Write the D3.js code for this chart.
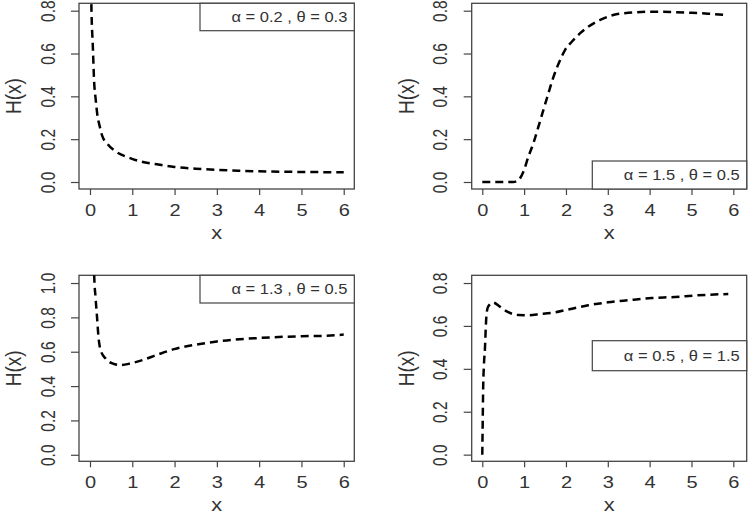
<!DOCTYPE html>
<html>
<head>
<meta charset="utf-8">
<script src="https://cdn.jsdelivr.net/npm/d3@7"></script>
<style>
  html, body { margin: 0; padding: 0; background: #fff; }
  svg { display: block; }
  text { font-family: "Liberation Sans", Arial, sans-serif; fill: #333; }
</style>
</head>
<body>
<svg id="chart" width="749" height="516"></svg>
<script>
// Values
const xTicks = [0, 1, 2, 3, 4, 5, 6];
const yTicks08 = [0, 0.2, 0.4, 0.6, 0.8];
const yTicks10 = [0, 0.2, 0.4, 0.6, 0.8, 1.0];

const p1Label = "α = 0.2 , θ = 0.3";
const p1X = [0.01, 0.03, 0.07, 0.095, 0.135, 0.17, 0.23, 0.29, 0.41, 0.61, 0.92, 1.28, 1.54, 2.0, 2.5, 3.0, 3.5, 4.0, 5.0, 6.0];
const p1H = [1.5, 0.85, 0.62, 0.48, 0.385, 0.32, 0.26, 0.215, 0.178, 0.142, 0.114, 0.092, 0.084, 0.07, 0.062, 0.057, 0.053, 0.05, 0.047, 0.045];

const p2Label = "α = 1.5 , θ = 0.5";
const p2X = [0, 0.4, 0.74, 0.86, 0.98, 1.10, 1.22, 1.34, 1.46, 1.58, 1.70, 1.84, 1.98, 2.14, 2.34, 2.54, 2.82, 3.13, 3.49, 4.05, 4.5, 5.0, 5.4, 5.84];
const p2H = [0.0, 0.0, 0.0, 0.008, 0.047, 0.117, 0.18, 0.257, 0.336, 0.414, 0.49, 0.56, 0.617, 0.655, 0.695, 0.726, 0.757, 0.78, 0.79, 0.795, 0.794, 0.79, 0.786, 0.78];

const p3Label = "α = 1.3 , θ = 0.5";
const p3X = [0.09, 0.1, 0.13, 0.16, 0.2, 0.25, 0.37, 0.53, 0.72, 0.96, 1.24, 1.63, 1.99, 2.6, 3.0, 4.0, 5.0, 5.6, 6.0];
const p3H = [1.2, 1.04, 0.92, 0.824, 0.687, 0.61, 0.56, 0.532, 0.522, 0.532, 0.551, 0.586, 0.615, 0.645, 0.66, 0.68, 0.69, 0.693, 0.70];

const p4Label = "α = 0.5 , θ = 1.5";
const p4X = [0.0, 0.01, 0.02, 0.04, 0.065, 0.085, 0.105, 0.14, 0.26, 0.42, 0.62, 0.86, 1.10, 1.38, 1.70, 2.02, 2.53, 3.0, 3.5, 4.05, 4.6, 5.08, 5.88];
const p4H = [0.0, 0.15, 0.3, 0.42, 0.5, 0.6, 0.66, 0.69, 0.709, 0.69, 0.664, 0.651, 0.65, 0.655, 0.662, 0.675, 0.696, 0.71, 0.72, 0.73, 0.735, 0.742, 0.749];

// Panel layout (plot box in pixels, domains, legend placement)
const panels = [
    { box: [79, 3.3, 354.3, 189], xDom: [-0.26, 6.25], yDom: [-0.0327, 0.8345], yTicks: yTicks08,
      xs: p1X, ys: p1H, label: p1Label, legend: { x0: 200, y0: 3.3, y1: 30.7 } },
    { box: [471.7, 3.3, 746.7, 189], xDom: [-0.253, 6.32], yDom: [-0.0327, 0.8345], yTicks: yTicks08,
      xs: p2X, ys: p2H, label: p2Label, legend: { x0: 592.3, y0: 161, y1: 189 } },
    { box: [79, 275.3, 354.3, 461.3], xDom: [-0.26, 6.25], yDom: [-0.038, 1.045], yTicks: yTicks10,
      xs: p3X, ys: p3H, label: p3Label, legend: { x0: 200, y0: 275.3, y1: 303 } },
    { box: [471.7, 275.3, 746.7, 461.3], xDom: [-0.253, 6.32], yDom: [-0.031, 0.836], yTicks: yTicks08,
      xs: p4X, ys: p4H, label: p4Label, legend: { x0: 592.3, y0: 340.7, y1: 370.7 } }
];

const svg = d3.select("#chart");
const axisColor = "#444";

panels.forEach((p, idx) => {
    const [left, top, right, bottom] = p.box;
    const x = d3.scaleLinear().domain(p.xDom).range([left, right]);
    const y = d3.scaleLinear().domain(p.yDom).range([bottom, top]);
    const g = svg.append("g").attr("class", "panel");

    // Clip the curve to the plot box
    const clipId = "clip" + idx;
    svg.append("clipPath").attr("id", clipId)
        .append("rect")
        .attr("x", left).attr("y", top)
        .attr("width", right - left).attr("height", bottom - top);

    // x axis ticks + labels
    const xAxis = g.append("g").attr("transform", `translate(0,${bottom})`)
        .call(d3.axisBottom(x).tickValues(xTicks).tickSize(6).tickFormat(d3.format("d")));
    xAxis.select(".domain").remove();
    xAxis.selectAll(".tick line").attr("stroke", axisColor).attr("stroke-width", 1.2);
    xAxis.selectAll(".tick text")
        .attr("y", 27).attr("dy", null)
        .attr("transform", "scale(1.25,1)")
        .style("font-size", "16px")
        .attr("fill", "#333");

    // y axis ticks + rotated labels
    const yAxis = g.append("g").attr("transform", `translate(${left},0)`)
        .call(d3.axisLeft(y).tickValues(p.yTicks).tickSize(8).tickFormat(d3.format(".1f")));
    yAxis.select(".domain").remove();
    yAxis.selectAll(".tick line").attr("stroke", axisColor).attr("stroke-width", 1.2);
    yAxis.selectAll(".tick text")
        .attr("x", null).attr("dy", null)
        .attr("text-anchor", "middle")
        .attr("dominant-baseline", "central")
        .attr("transform", "translate(-31,0) rotate(-90) scale(1,1.3)")
        .style("font-size", "15.5px")
        .attr("fill", "#333");

    // plot box
    g.append("rect")
        .attr("x", left).attr("y", top)
        .attr("width", right - left).attr("height", bottom - top)
        .attr("fill", "none")
        .attr("stroke", axisColor)
        .attr("stroke-width", 1.3);

    // axis titles
    g.append("text")
        .attr("transform", `translate(${(left + right) / 2},${bottom + 50}) scale(1.15,1)`)
        .attr("text-anchor", "middle")
        .style("font-size", "19px")
        .text("x");
    g.append("text")
        .attr("transform", `translate(${left - 66},${(top + bottom) / 2}) rotate(-90) scale(1,1.2)`)
        .attr("text-anchor", "middle")
        .attr("dominant-baseline", "central")
        .style("font-size", "19px")
        .text("H(x)");

    // curve
    const pts = p.xs.map((v, i) => [v, p.ys[i]]);
    const line = d3.line()
        .x(d => x(d[0]))
        .y(d => y(d[1]))
        .curve(d3.curveMonotoneX);
    g.append("path")
        .datum(pts)
        .attr("clip-path", `url(#${clipId})`)
        .attr("d", line)
        .attr("fill", "none")
        .attr("stroke", "#000")
        .attr("stroke-width", 2.5)
        .attr("stroke-dasharray", "8,5");

    // legend box
    const lg = p.legend;
    g.append("rect")
        .attr("x", lg.x0).attr("y", lg.y0)
        .attr("width", right - lg.x0).attr("height", lg.y1 - lg.y0)
        .attr("fill", "#fff")
        .attr("stroke", axisColor)
        .attr("stroke-width", 1.2);
    g.append("text")
        .attr("transform", `translate(${right - 7},${(lg.y0 + lg.y1) / 2}) scale(1.1,1)`)
        .attr("text-anchor", "end")
        .attr("dominant-baseline", "central")
        .style("font-size", "15px")
        .text(p.label);
});
</script>
</body>
</html>
